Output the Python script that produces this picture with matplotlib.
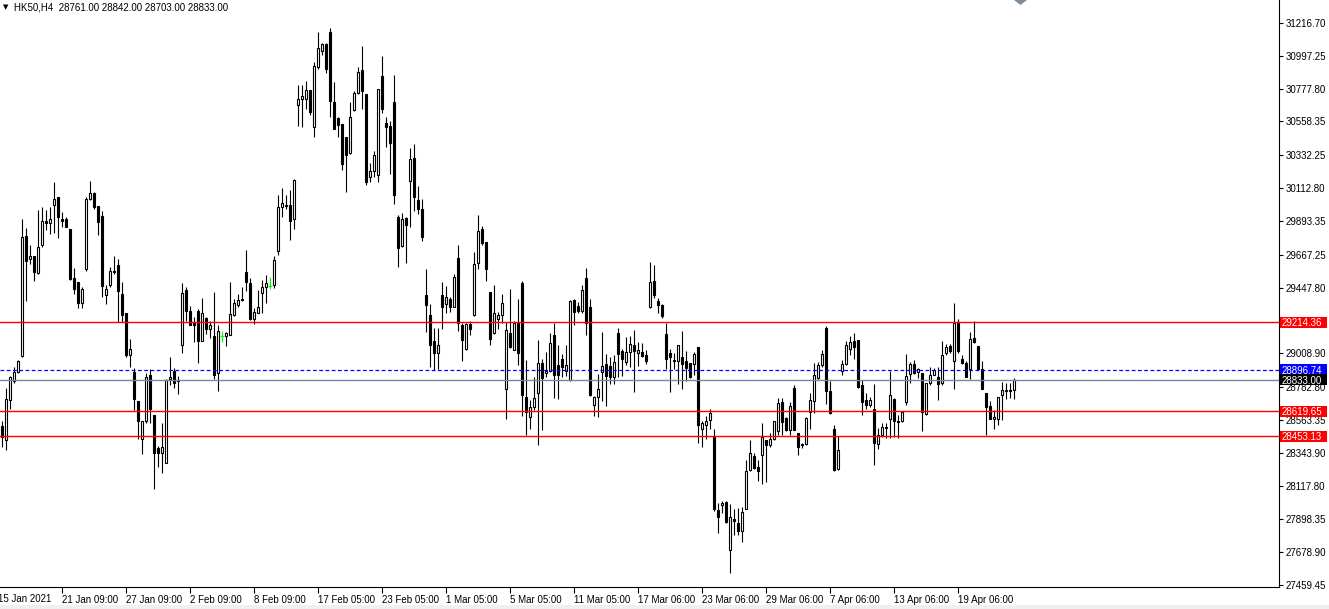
import matplotlib
matplotlib.use('Agg')
import matplotlib.pyplot as plt
import matplotlib.transforms as mtransforms
from matplotlib.patches import Polygon, Rectangle
import numpy as np

plt.rcParams['font.family'] = ['Liberation Sans', 'DejaVu Sans']

# ---------------- data (HK50, H4 candles) ----------------
opens = [
    28522, 28429, 28696, 28823, 28883, 28990, 29793, 29639, 29659, 29545,
    29733, 29893, 29879, 30000, 30053, 29906, 29906, 29839, 29512, 29485,
    29345, 29572, 30040, 30080, 29993, 29926, 29398, 29465, 29559, 29599,
    29405, 29278, 28997, 28883, 28689, 28435, 28556, 28863, 28596, 28375,
    28342, 28275, 28836, 28890, 28830, 29064, 29432, 29291, 29211, 29291,
    29091, 29244, 29171, 29124, 28877, 29124, 29124, 29131, 29264, 29331,
    29371, 29552, 29478, 29238, 29278, 29412, 29452, 29458, 29465, 29692,
    29986, 30000, 30000, 29906, 30669, 30709, 30709, 30769, 30521, 30923,
    31029, 31076, 31157, 30689, 30582, 30541, 30455, 30348, 30635, 30749,
    30902, 30742, 30187, 30227, 30200, 30862, 30548, 30528, 30689, 29920,
    29726, 29913, 30160, 30314, 30033, 29973, 29398, 29264, 29091, 29010,
    29398, 29338, 29371, 29318, 29645, 29197, 29037, 29204, 29264, 29612,
    29839, 29752, 29418, 29144, 29238, 29264, 28770, 29144, 29030, 29218,
    29478, 28716, 28582, 28649, 28743, 28944, 28877, 28890, 29131, 28930,
    28970, 28890, 28830, 29365, 29325, 29291, 29512, 29318, 28662, 28716,
    28883, 28937, 28923, 28850, 29144, 29024, 28950, 29017, 29064, 29010,
    29017, 28997, 29318, 29492, 29358, 29331, 29137, 29010, 28964, 28957,
    28984, 28957, 28944, 28937, 29050, 28502, 28529, 28562, 28449, 27961,
    27994, 28014, 27693, 27900, 27874, 27820, 27967, 28228, 28322, 28248,
    28328, 28429, 28395, 28435, 28489, 28683, 28576, 28496, 28776, 28475,
    28402, 28402, 28616, 28689, 28843, 28930, 29178, 28756, 28502, 28235,
    28890, 28937, 29037, 29091, 29097, 28796, 28696, 28662, 28636, 28402,
    28462, 28512, 28569, 28703, 28559, 28556, 28683, 28870, 28937, 28883,
    28877, 28602, 28810, 28863, 28850, 28810, 29010, 29057, 28957, 29211,
    28970, 28944, 28904, 29111, 29057, 28904, 28743, 28656, 28569, 28569,
    28730, 28759, 28763, 28761,
]
highs = [
    28556, 28776, 28857, 28917, 28964, 29906, 29846, 29733, 29659, 29966,
    29986, 29966, 29986, 30154, 30053, 29953, 29920, 29839, 29579, 29485,
    29452, 30053, 30160, 30087, 29993, 29960, 29465, 29585, 29659, 29639,
    29485, 29278, 29104, 28910, 28689, 28556, 28877, 28904, 28596, 28389,
    28542, 28836, 28984, 28910, 28857, 29478, 29452, 29325, 29251, 29305,
    29378, 29251, 29224, 29418, 29197, 29157, 29151, 29485, 29371, 29405,
    29452, 29699, 29512, 29311, 29432, 29498, 29532, 29519, 29659, 30067,
    30114, 30067, 30100, 30174, 30802, 30802, 30829, 30769, 30956, 31157,
    31083, 31083, 31183, 30822, 30588, 30541, 30455, 30689, 30762, 30923,
    31063, 30742, 30281, 30361, 30775, 30996, 30588, 30561, 30869, 29933,
    29946, 29920, 30381, 30408, 30127, 30040, 29572, 29338, 29178, 29178,
    29485, 29458, 29385, 29538, 29733, 29211, 29211, 29224, 29686, 29933,
    29859, 29752, 29418, 29465, 29284, 29405, 29218, 29438, 29224, 29371,
    29492, 28964, 28696, 28850, 29097, 28970, 29017, 29144, 29211, 29064,
    29004, 29064, 29365, 29371, 29351, 29465, 29579, 29371, 28723, 28870,
    29151, 29004, 28984, 28997, 29178, 29037, 29117, 29124, 29164, 29084,
    29077, 29030, 29619, 29599, 29378, 29338, 29211, 29037, 29010, 29064,
    29157, 29024, 28944, 29017, 29050, 28556, 28589, 28636, 28502, 28007,
    28021, 28021, 28001, 27967, 27974, 27981, 28295, 28429, 28342, 28295,
    28542, 28429, 28475, 28556, 28709, 28709, 28582, 28683, 28796, 28475,
    28409, 28582, 28743, 28944, 28950, 29030, 29191, 28823, 28529, 28455,
    28964, 29091, 29124, 29144, 29097, 28830, 28743, 28716, 28803, 28509,
    28542, 28542, 28890, 28709, 28596, 28622, 29004, 28950, 28964, 28910,
    28877, 28810, 28917, 28910, 28917, 29091, 29070, 29070, 29345, 29238,
    28997, 28957, 29151, 29224, 29057, 28957, 28743, 28689, 28629, 28716,
    28816, 28810, 28810, 28842,
]
lows = [
    28382, 28362, 28636, 28810, 28877, 28984, 29358, 29605, 29492, 29538,
    29719, 29833, 29806, 29813, 29779, 29853, 29853, 29498, 29405, 29311,
    29311, 29559, 30033, 29973, 29799, 29385, 29338, 29452, 29538, 29218,
    29218, 28984, 28917, 28629, 28435, 28335, 28542, 28542, 28101, 28248,
    28208, 28275, 28796, 28776, 28736, 29010, 29224, 29197, 29084, 28944,
    29091, 29137, 29111, 28836, 28756, 29084, 29057, 29131, 29258, 29318,
    29358, 29425, 29231, 29204, 29278, 29278, 29345, 29438, 29445, 29666,
    29920, 29973, 29766, 29839, 30528, 30521, 30642, 30602, 30455, 30909,
    31003, 30882, 30588, 30508, 30455, 30234, 30087, 30341, 30628, 30742,
    30642, 30134, 30154, 30187, 30154, 30615, 30388, 30207, 30007, 29585,
    29719, 29612, 29853, 29960, 29940, 29759, 29151, 28917, 28897, 28904,
    29171, 29278, 29284, 29318, 29157, 28957, 29030, 29131, 29258, 29572,
    29733, 29492, 29064, 29137, 29171, 29211, 28569, 29044, 29030, 28930,
    28589, 28462, 28502, 28629, 28395, 28496, 28850, 28883, 28709, 28703,
    28850, 28857, 28823, 29197, 29278, 29278, 29131, 28723, 28589, 28582,
    28689, 28656, 28803, 28803, 28850, 28857, 28930, 28917, 28750, 28923,
    28984, 28937, 29311, 29378, 29278, 29244, 28904, 28750, 28904, 28803,
    28770, 28823, 28843, 28863, 28409, 28382, 28435, 28502, 27954, 27807,
    27941, 27874, 27539, 27793, 27793, 27747, 27967, 28221, 28235, 28155,
    28134, 28148, 28382, 28429, 28462, 28462, 28489, 28462, 28496, 28328,
    28375, 28395, 28502, 28609, 28836, 28917, 28669, 28602, 28221, 28228,
    28863, 28930, 28997, 28970, 28776, 28596, 28636, 28649, 28261, 28368,
    28449, 28442, 28442, 28449, 28442, 28550, 28662, 28810, 28870, 28843,
    28489, 28596, 28796, 28863, 28696, 28796, 28997, 29010, 28770, 29010,
    28937, 28850, 28836, 29077, 28904, 28770, 28462, 28569, 28502, 28529,
    28562, 28703, 28709, 28703,
]
closes = [
    28449, 28703, 28850, 28883, 28957, 29786, 29625, 29659, 29552, 29719,
    29893, 29879, 29906, 30040, 29920, 29893, 29853, 29505, 29438, 29345,
    29438, 30040, 30080, 29986, 29886, 29458, 29438, 29559, 29552, 29425,
    29264, 28997, 29037, 28703, 28556, 28556, 28850, 28636, 28342, 28342,
    28382, 28830, 28850, 28810, 28823, 29412, 29291, 29197, 29197, 29091,
    29278, 29171, 29197, 28863, 29157, 29124, 29144, 29271, 29345, 29365,
    29365, 29485, 29238, 29284, 29318, 29452, 29478, 29458, 29632, 29986,
    30013, 29993, 29893, 30167, 30709, 30729, 30769, 30622, 30929, 31050,
    31076, 30909, 30695, 30508, 30535, 30274, 30334, 30588, 30749, 30889,
    30762, 30154, 30227, 30334, 30775, 30642, 30521, 30414, 30067, 29712,
    29906, 29866, 30307, 30053, 29973, 29786, 29331, 29064, 29010, 29064,
    29318, 29385, 29318, 29518, 29211, 29097, 29204, 29171, 29605, 29826,
    29746, 29572, 29104, 29278, 29264, 29345, 29164, 29050, 29211, 29010,
    28730, 28616, 28649, 28709, 28944, 28843, 28890, 29077, 28863, 28863,
    28917, 28930, 29358, 29284, 29291, 29432, 29211, 28730, 28716, 28770,
    28923, 28857, 28850, 28950, 29004, 28970, 29017, 29070, 29024, 29030,
    28990, 28957, 29485, 29398, 29331, 29258, 28970, 28984, 28954, 29064,
    28937, 28910, 28850, 29004, 28529, 28542, 28556, 28609, 27967, 27914,
    28007, 27880, 27914, 27887, 27820, 27947, 28221, 28342, 28241, 28221,
    28449, 28395, 28435, 28556, 28676, 28549, 28496, 28656, 28496, 28382,
    28395, 28576, 28696, 28863, 28930, 29004, 28756, 28609, 28228, 28362,
    28937, 29064, 29084, 29050, 28783, 28683, 28662, 28696, 28409, 28462,
    28516, 28516, 28730, 28556, 28552, 28616, 28857, 28937, 28877, 28904,
    28616, 28810, 28863, 28897, 28803, 28997, 29050, 29024, 29211, 29024,
    28944, 28850, 29104, 29084, 28904, 28770, 28649, 28569, 28582, 28716,
    28763, 28763, 28756, 28833,
]

# horizontal levels
red_levels = [29214.36, 28619.65, 28453.13]
bid_level = 28896.74
last_price = 28833.00

# axis ticks / labels
y_ticks = [31216.70, 30997.25, 30777.80, 30558.35, 30332.25, 30112.80, 29893.35,
           29667.25, 29447.80, 29008.90, 28782.80, 28563.35, 28343.90, 28117.80,
           27898.35, 27678.90, 27459.45]
x_tick_idx = [15, 31, 47, 63, 79, 95, 111, 127, 143, 159, 175, 191, 207, 223, 239]
x_tick_labels = ['21 Jan 09:00', '27 Jan 09:00', '2 Feb 09:00', '8 Feb 09:00',
                 '17 Feb 05:00', '23 Feb 05:00', '1 Mar 05:00', '5 Mar 05:00',
                 '11 Mar 05:00', '17 Mar 06:00', '23 Mar 06:00', '29 Mar 06:00',
                 '7 Apr 06:00', '13 Apr 06:00', '19 Apr 06:00']
first_label = '15 Jan 2021'
header = 'HK50,H4  28761.00 28842.00 28703.00 28833.00'

assert len(opens) == len(highs) == len(lows) == len(closes)

FS = 7.0

# ---------------- figure ----------------
W, H = 1329, 609
fig = plt.figure(figsize=(W / 100, H / 100), dpi=100)
fig.patch.set_facecolor('white')
ax_w = 1279 / W
ax_b = (H - 587) / H
ax = fig.add_axes([0, ax_b, ax_w, 1 - ax_b])
ax.set_facecolor('white')

o = np.array(opens, float)
h = np.array(highs, float)
l = np.array(lows, float)
c = np.array(closes, float)
x = np.arange(len(o))
up = c > o
dn = c < o
dj = c == o

ax.vlines(x[~dj], l[~dj], h[~dj], color='black', lw=0.8, zorder=2)
ax.bar(x[up], c[up] - o[up], bottom=o[up], width=0.6, facecolor='white',
       edgecolor='black', linewidth=0.8, zorder=3)
ax.bar(x[dn], o[dn] - c[dn], bottom=c[dn], width=0.6, facecolor='black',
       edgecolor='black', linewidth=0.8, zorder=3)
ax.vlines(x[dj], l[dj], h[dj], color='#00ff00', lw=0.8, zorder=3)
ax.hlines(o[dj], x[dj] - 0.4, x[dj] + 0.4, color='#00ff00', lw=0.8, zorder=3)

for lv in red_levels:
    ax.axhline(lv, color='#ff0000', lw=1.0, zorder=4)
ln = ax.axhline(bid_level, color='#0000ff', lw=0.9, zorder=4)
ln.set_dashes((3, 2))
ax.axhline(last_price, color='#778899', lw=1.0, zorder=4)

ytop, ybot = 31370.5, 27445.8
ax.set_ylim(ybot, ytop)
ax.set_xlim(-0.5, 319.25)

for s in ['left', 'top']:
    ax.spines[s].set_visible(False)
for s in ['right', 'bottom']:
    ax.spines[s].set_linewidth(0.8)
    ax.spines[s].set_color('black')

ax.yaxis.tick_right()
ax.set_yticks(y_ticks, [f'{v:.2f}' for v in y_ticks])
ax.tick_params(axis='y', length=3, width=0.8, pad=2, labelsize=FS, colors='black')
ax.set_xticks(x_tick_idx, x_tick_labels)
ax.tick_params(axis='x', length=4, width=0.8, pad=2, labelsize=FS, colors='black')
for t in ax.get_xticklabels():
    t.set_ha('left')

# first (partially cut) date label, aligned with the other tick labels
tb = mtransforms.blended_transform_factory(ax.transData, ax.transAxes)
ax.text(-1, -(4 + 2 * 100 / 72) / 587, first_label, transform=tb, ha='left',
        va='top', fontsize=FS, clip_on=False)

# price labels on the right axis
ppp = (ytop - ybot) / 587.0
tr = mtransforms.blended_transform_factory(ax.transAxes, ax.transData)
for val, fc in [(red_levels[0], '#ff0000'), (bid_level, '#0000ff'),
                (last_price, '#000000'), (red_levels[1], '#ff0000'),
                (red_levels[2], '#ff0000')]:
    rect = Rectangle((1.0 + 1 / 1279, val - 5.5 * ppp), 47 / 1279, 11 * ppp,
                     transform=tr, facecolor=fc, edgecolor='none',
                     clip_on=False, zorder=10)
    ax.add_patch(rect)
    ax.text(1.0 + 3 / 1279, val, f'{val:.2f}', transform=tr, ha='left',
            va='center_baseline', color='white', fontsize=FS, clip_on=False,
            zorder=11)

# header
fig.text(3 / W, 1 - 7 / H, '▼', fontsize=5, family='DejaVu Sans',
         ha='left', va='center')
fig.text(14 / W, 1 - 7 / H, header, fontsize=FS, ha='left', va='center')

# chart-shift marker at top
fig.patches.append(Polygon([(1014 / W, 1), (1027 / W, 1), (1020.5 / W, 1 - 5 / H)],
                           closed=True, transform=fig.transFigure,
                           facecolor='#7f8b97', edgecolor='none'))
# bottom window strip
fig.patches.append(Rectangle((0, 0), 1, 4 / H, transform=fig.transFigure,
                             facecolor='#f0f0f0', edgecolor='none'))

fig.savefig('out.png', dpi=100)
